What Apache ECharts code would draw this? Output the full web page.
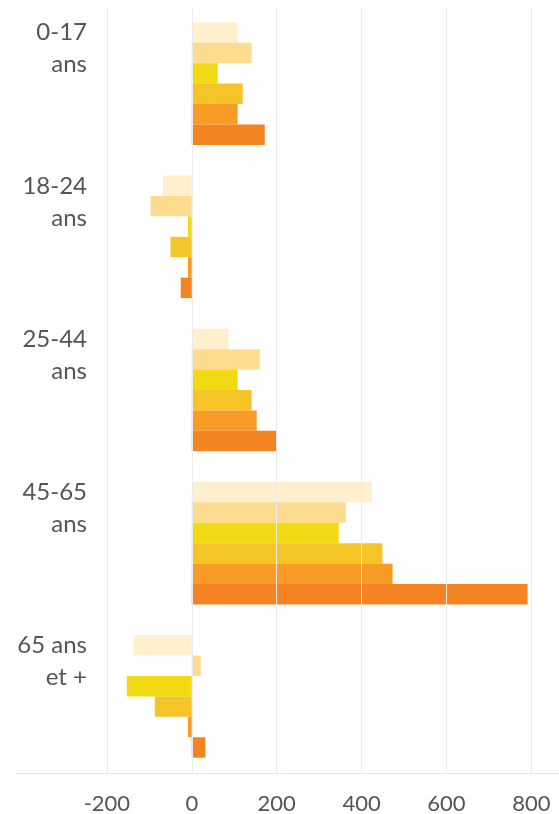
<!DOCTYPE html>
<html>
<head>
<meta charset="utf-8">
<script src="https://cdn.jsdelivr.net/npm/echarts@6/dist/echarts.min.js"></script>
<style>
  html, body { margin: 0; padding: 0; background: #fff; }
  #chart { width: 559px; height: 814px; }
</style>
</head>
<body>
<div id="chart"></div>
<script>
// catégories d'âge (de haut en bas)
var categories = ['0-17\nans', '18-24\nans', '25-44\nans', '45-65\nans', '65 ans\net +']
var seriesNames = ['série 1', 'série 2', 'série 3', 'série 4', 'série 5', 'série 6']
var colors = ['#FFEFCD', '#FEDC8F', '#F1D913', '#F4C428', '#F89B24', '#F48322']

// valeurs
var serie1 = [108, -68, 87, 424, -137]
var serie2 = [141, -97, 160, 363, 21]
var serie3 = [61, -9, 108, 346, -153]
var serie4 = [120, -50, 141, 449, -87]
var serie5 = [108, -9, 153, 473, -9]
var serie6 = [172, -26, 200, 791, 32]
var allValues = [serie1, serie2, serie3, serie4, serie5, serie6]

var xTicks = [-200, 0, 200, 400, 600, 800]

var textColor = '#555555'
var fontFamily = 'Lato, "Noto Sans", sans-serif'

var series = []
for (var i = 0; i < allValues.length; i++) {
  series.push({
    name: seriesNames[i],
    type: 'bar',
    color: colors[i],
    barGap: '0%',
    barCategoryGap: '20%',
    data: allValues[i]
  })
}

var option = {
  animation: false,
  grid: {
    top: 7,
    bottom: 41,
    left: 16,
    right: 0,
    outerBoundsMode: 'none'
  },
  xAxis: {
    type: 'value',
    min: -414,
    max: 865,
    z: 5,
    axisLine: {
      show: true,
      lineStyle: { color: '#e6e6e6', width: 1 }
    },
    axisTick: { show: false, customValues: xTicks },
    splitLine: {
      show: true,
      lineStyle: { color: '#ebebeb', width: 1 }
    },
    axisLabel: {
      customValues: xTicks,
      margin: 20,
      color: textColor,
      fontSize: 22,
      fontFamily: fontFamily
    }
  },
  yAxis: {
    type: 'category',
    inverse: true,
    data: categories,
    axisLine: { show: false },
    axisTick: { show: false },
    splitLine: { show: false },
    axisLabel: {
      inside: true,
      margin: 71,
      align: 'right',
      verticalAlign: 'middle',
      // le libellé est calé en haut de chaque groupe
      formatter: function (value) {
        var lines = value.split('\n')
        return '{a|' + lines[0] + '}\n{a|' + lines[1] + '}\n{s| }'
      },
      rich: {
        a: {
          fontSize: 24,
          lineHeight: 32,
          color: textColor,
          fontFamily: fontFamily,
          align: 'right'
        },
        s: {
          fontSize: 2,
          lineHeight: 70
        }
      }
    }
  },
  series: series
}

var myChart = echarts.init(document.getElementById('chart'))
myChart.setOption(option)
</script>
</body>
</html>
